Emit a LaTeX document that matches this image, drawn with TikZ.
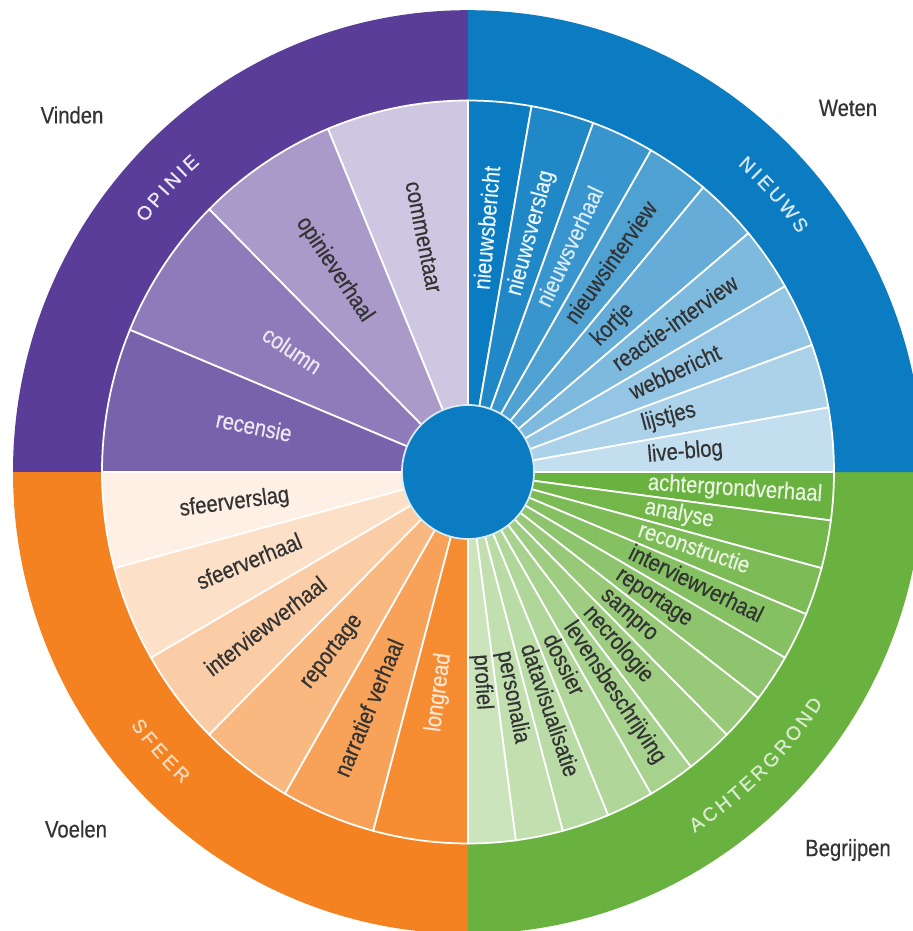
\documentclass[tikz,border=0pt]{standalone}
\usepackage{fontspec}
\setmainfont{Liberation Sans}[FakeStretch=0.86, FakeBold=0.4]
\newfontfamily\ringfont{Liberation Sans}[FakeBold=0.8]

\definecolor{opinie}{HTML}{5A3D98}
\definecolor{nieuws}{HTML}{0B7CC1}
\definecolor{achtergrond}{HTML}{6AB23F}
\definecolor{sfeer}{HTML}{F58220}
\definecolor{tekst}{HTML}{333333}

\begin{document}
\begin{tikzpicture}[x=0.02cm, y=0.02cm,
        vak/.style={draw=white, line width=1pt},
        woord/.style={inner sep=0pt, text height=1.5ex, text depth=0.25ex, font=\fontsize{13.4}{16}\selectfont},
        hoek/.style={text=tekst, font=\fontsize{13.4}{16}\selectfont},
        ringletter/.style={inner sep=0pt, font=\ringfont\fontsize{11}{13}\selectfont}]

    % Frame of the picture
    \useasboundingbox (-468,-459) rectangle (445,472);
    \clip (-468,-459) rectangle (445,472);
    \fill[white] (-468,-459) rectangle (445,472);
    \coordinate (O) at (0,0);

    \begin{scope}[yscale=1.015]
    % Outer ring, one quarter per genre
    \fill[opinie] (O) -- (90:455) arc (90:180:455) -- cycle;
    \fill[sfeer] (O) -- (180:455) arc (180:270:455) -- cycle;
    \fill[achtergrond] (O) -- (270:455) arc (270:360:455) -- cycle;
    \fill[nieuws] (O) -- (0:455) arc (0:90:455) -- cycle;

    % Opinie
    \filldraw[vak, fill=opinie!29!white] (O) -- (90:366) arc (90:112.5:366) -- cycle;
    \filldraw[vak, fill=opinie!52!white] (O) -- (112.5:366) arc (112.5:135:366) -- cycle;
    \filldraw[vak, fill=opinie!68!white] (O) -- (135:366) arc (135:157.5:366) -- cycle;
    \filldraw[vak, fill=opinie!81!white] (O) -- (157.5:366) arc (157.5:180:366) -- cycle;

    \node[woord, anchor=east, rotate=-78.75, text=tekst] (commentaar) at (101.25:180) {commentaar};
    \node[woord, anchor=east, rotate=-56.25, text=tekst] (opinieverhaal) at (123.75:180) {opinieverhaal};
    \node[woord, anchor=east, rotate=-33.75, text=opinie!12!white] (column) at (146.25:180) {column};
    \node[woord, anchor=east, rotate=-11.25, text=opinie!12!white] (recensie) at (168.75:180) {recensie};

    % Nieuws
    \filldraw[vak, fill=nieuws!100!white] (O) -- (80:366) arc (80:90:366) -- cycle;
    \filldraw[vak, fill=nieuws!91!white] (O) -- (70:366) arc (70:80:366) -- cycle;
    \filldraw[vak, fill=nieuws!81!white] (O) -- (60:366) arc (60:70:366) -- cycle;
    \filldraw[vak, fill=nieuws!72!white] (O) -- (50:366) arc (50:60:366) -- cycle;
    \filldraw[vak, fill=nieuws!63!white] (O) -- (40:366) arc (40:50:366) -- cycle;
    \filldraw[vak, fill=nieuws!53!white] (O) -- (30:366) arc (30:40:366) -- cycle;
    \filldraw[vak, fill=nieuws!44!white] (O) -- (20:366) arc (20:30:366) -- cycle;
    \filldraw[vak, fill=nieuws!34!white] (O) -- (10:366) arc (10:20:366) -- cycle;
    \filldraw[vak, fill=nieuws!25!white] (O) -- (0:366) arc (0:10:366) -- cycle;

    \node[woord, anchor=west, rotate=85, text=nieuws!8!white] (nieuwsbericht) at (85:180) {nieuwsbericht};
    \node[woord, anchor=west, rotate=75, text=nieuws!8!white] (nieuwsverslag) at (75:180) {nieuwsverslag};
    \node[woord, anchor=west, rotate=65, text=nieuws!15!white] (nieuwsverhaal) at (65:180) {nieuwsverhaal};
    \node[woord, anchor=west, rotate=55, text=tekst] (nieuwsinterview) at (55:180) {nieuwsinterview};
    \node[woord, anchor=west, rotate=45, text=tekst] (kortje) at (45:180) {kortje};
    \node[woord, anchor=west, rotate=35, text=tekst] (reactie) at (35:180) {reactie-interview};
    \node[woord, anchor=west, rotate=25, text=tekst] (webbericht) at (25:180) {webbericht};
    \node[woord, anchor=west, rotate=15, text=tekst] (lijstjes) at (15:180) {lijstjes};
    \node[woord, anchor=west, rotate=5, text=tekst] (liveblog) at (5:180) {live-blog};

    % Achtergrond
    \filldraw[vak, fill=achtergrond!100!white] (O) -- (0:366) arc (0:-7.5:366) -- cycle;
    \filldraw[vak, fill=achtergrond!94!white] (O) -- (-7.5:366) arc (-7.5:-15:366) -- cycle;
    \filldraw[vak, fill=achtergrond!88!white] (O) -- (-15:366) arc (-15:-22.5:366) -- cycle;
    \filldraw[vak, fill=achtergrond!82!white] (O) -- (-22.5:366) arc (-22.5:-30:366) -- cycle;
    \filldraw[vak, fill=achtergrond!76!white] (O) -- (-30:366) arc (-30:-37.5:366) -- cycle;
    \filldraw[vak, fill=achtergrond!70!white] (O) -- (-37.5:366) arc (-37.5:-45:366) -- cycle;
    \filldraw[vak, fill=achtergrond!65!white] (O) -- (-45:366) arc (-45:-52.5:366) -- cycle;
    \filldraw[vak, fill=achtergrond!59!white] (O) -- (-52.5:366) arc (-52.5:-60:366) -- cycle;
    \filldraw[vak, fill=achtergrond!53!white] (O) -- (-60:366) arc (-60:-67.5:366) -- cycle;
    \filldraw[vak, fill=achtergrond!47!white] (O) -- (-67.5:366) arc (-67.5:-75:366) -- cycle;
    \filldraw[vak, fill=achtergrond!41!white] (O) -- (-75:366) arc (-75:-82.5:366) -- cycle;
    \filldraw[vak, fill=achtergrond!35!white] (O) -- (-82.5:366) arc (-82.5:-90:366) -- cycle;

    \node[woord, anchor=west, rotate=-3.75, text=achtergrond!15!white] (achtergrondverhaal) at (-3.75:180) {achtergrondverhaal};
    \node[woord, anchor=west, rotate=-11.25, text=achtergrond!15!white] (analyse) at (-11.25:180) {analyse};
    \node[woord, anchor=west, rotate=-18.75, text=achtergrond!15!white] (reconstructie) at (-18.75:180) {reconstructie};
    \node[woord, anchor=west, rotate=-26.25, text=tekst] (ag-interviewverhaal) at (-26.25:180) {interviewverhaal};
    \node[woord, anchor=west, rotate=-33.75, text=tekst] (ag-reportage) at (-33.75:180) {reportage};
    \node[woord, anchor=west, rotate=-41.25, text=tekst] (sampro) at (-41.25:180) {sampro};
    \node[woord, anchor=west, rotate=-48.75, text=tekst] (necrologie) at (-48.75:180) {necrologie};
    \node[woord, anchor=west, rotate=-56.25, text=tekst] (levensbeschrijving) at (-56.25:180) {levensbeschrijving};
    \node[woord, anchor=west, rotate=-63.75, text=tekst] (dossier) at (-63.75:180) {dossier};
    \node[woord, anchor=west, rotate=-71.25, text=tekst] (datavisualisatie) at (-71.25:180) {datavisualisatie};
    \node[woord, anchor=west, rotate=-78.75, text=tekst] (personalia) at (-78.75:180) {personalia};
    \node[woord, anchor=west, rotate=-86.25, text=tekst] (profiel) at (-86.25:180) {profiel};

    % Sfeer
    \filldraw[vak, fill=sfeer!12!white] (O) -- (180:366) arc (180:195:366) -- cycle;
    \filldraw[vak, fill=sfeer!25!white] (O) -- (195:366) arc (195:210:366) -- cycle;
    \filldraw[vak, fill=sfeer!40!white] (O) -- (210:366) arc (210:225:366) -- cycle;
    \filldraw[vak, fill=sfeer!57!white] (O) -- (225:366) arc (225:240:366) -- cycle;
    \filldraw[vak, fill=sfeer!75!white] (O) -- (240:366) arc (240:255:366) -- cycle;
    \filldraw[vak, fill=sfeer!92!white] (O) -- (255:366) arc (255:270:366) -- cycle;

    \node[woord, anchor=east, rotate=7.5, text=tekst] (sfeerverslag) at (187.5:180) {sfeerverslag};
    \node[woord, anchor=east, rotate=22.5, text=tekst] (sfeerverhaal) at (202.5:180) {sfeerverhaal};
    \node[woord, anchor=east, rotate=37.5, text=tekst] (sf-interviewverhaal) at (217.5:180) {interviewverhaal};
    \node[woord, anchor=east, rotate=52.5, text=tekst] (sf-reportage) at (232.5:180) {reportage};
    \node[woord, anchor=east, rotate=67.5, text=tekst] (narratief) at (247.5:180) {narratief verhaal};
    \node[woord, anchor=east, rotate=82.5, text=sfeer!20!white] (longread) at (262.5:180) {longread};

    % Genre names along the ring
    \node[ringletter, text=opinie!12!white, rotate=51.70] (opinie-1) at (141.70:412) {O};
    \node[ringletter, text=opinie!12!white, rotate=49.33] (opinie-2) at (139.33:412) {P};
    \node[ringletter, text=opinie!12!white, rotate=47.61] (opinie-3) at (137.61:412) {I};
    \node[ringletter, text=opinie!12!white, rotate=45.81] (opinie-4) at (135.81:412) {N};
    \node[ringletter, text=opinie!12!white, rotate=44.02] (opinie-5) at (134.02:412) {I};
    \node[ringletter, text=opinie!12!white, rotate=42.30] (opinie-6) at (132.30:412) {E};

    \node[ringletter, text=nieuws!18!white, rotate=-42.70] (nieuws-1) at (47.30:412) {N};
    \node[ringletter, text=nieuws!18!white, rotate=-44.50] (nieuws-2) at (45.50:412) {I};
    \node[ringletter, text=nieuws!18!white, rotate=-46.23] (nieuws-3) at (43.77:412) {E};
    \node[ringletter, text=nieuws!18!white, rotate=-48.52] (nieuws-4) at (41.48:412) {U};
    \node[ringletter, text=nieuws!18!white, rotate=-51.17] (nieuws-5) at (38.83:412) {W};
    \node[ringletter, text=nieuws!18!white, rotate=-53.76] (nieuws-6) at (36.24:412) {S};

    \node[ringletter, text=sfeer!30!white, rotate=307.34] (sfeer-1) at (217.34:413) {S};
    \node[ringletter, text=sfeer!30!white, rotate=309.49] (sfeer-2) at (219.49:413) {F};
    \node[ringletter, text=sfeer!30!white, rotate=311.64] (sfeer-3) at (221.64:413) {E};
    \node[ringletter, text=sfeer!30!white, rotate=313.87] (sfeer-4) at (223.87:413) {E};
    \node[ringletter, text=sfeer!30!white, rotate=316.16] (sfeer-5) at (226.16:413) {R};

    \node[ringletter, text=achtergrond!25!white, rotate=33.39] (achtergrond-1) at (-56.61:415) {A};
    \node[ringletter, text=achtergrond!25!white, rotate=35.64] (achtergrond-2) at (-54.36:415) {C};
    \node[ringletter, text=achtergrond!25!white, rotate=37.96] (achtergrond-3) at (-52.04:415) {H};
    \node[ringletter, text=achtergrond!25!white, rotate=40.14] (achtergrond-4) at (-49.86:415) {T};
    \node[ringletter, text=achtergrond!25!white, rotate=42.25] (achtergrond-5) at (-47.75:415) {E};
    \node[ringletter, text=achtergrond!25!white, rotate=44.50] (achtergrond-6) at (-45.50:415) {R};
    \node[ringletter, text=achtergrond!25!white, rotate=46.90] (achtergrond-7) at (-43.10:415) {G};
    \node[ringletter, text=achtergrond!25!white, rotate=49.29] (achtergrond-8) at (-40.71:415) {R};
    \node[ringletter, text=achtergrond!25!white, rotate=51.68] (achtergrond-9) at (-38.32:415) {O};
    \node[ringletter, text=achtergrond!25!white, rotate=54.08] (achtergrond-10) at (-35.92:415) {N};
    \node[ringletter, text=achtergrond!25!white, rotate=56.40] (achtergrond-11) at (-33.60:415) {D};

    % Hub
    \filldraw[fill=nieuws, draw=nieuws!15!white, line width=1pt] (O) circle (66);
    \end{scope}

    % Corner words
    \node[hoek] (vinden) at (-396,357) {Vinden};
    \node[hoek] (weten) at (380,364) {Weten};
    \node[hoek] (voelen) at (-392,-357) {Voelen};
    \node[hoek] (begrijpen) at (380,-378) {Begrijpen};

\end{tikzpicture}
\end{document}
